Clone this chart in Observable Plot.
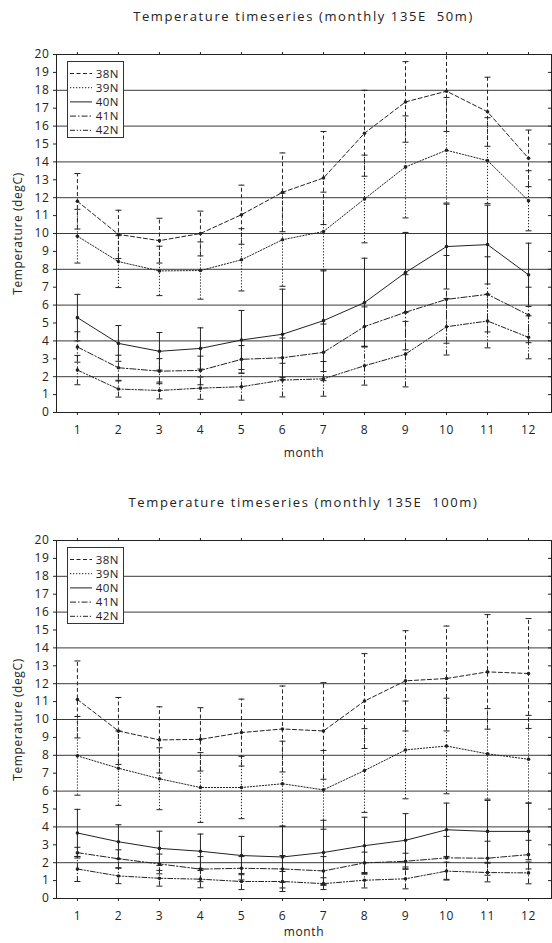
<!DOCTYPE html>
<html><head><meta charset="utf-8">
<script src="https://cdn.jsdelivr.net/npm/d3@7"></script>
<script src="https://cdn.jsdelivr.net/npm/@observablehq/plot@0.6"></script>
<style>
body{margin:0;background:#fff;font-family:"Open Sans",sans-serif;color:#222}
.block{position:relative;width:552px;height:486px;overflow:visible}
.title{position:absolute;left:56px;width:495px;top:8px;line-height:16px;text-align:center;font-size:13px;letter-spacing:1.6px;white-space:pre;color:#222}
.plotwrap{position:absolute;left:0;top:34px}
.legend{position:absolute;left:67px;top:61px}
</style></head><body>
<div id="root"></div>
<script>
const months = [1,2,3,4,5,6,7,8,9,10,11,12];
const seriesNames = ["38N","39N","40N","41N","42N"];
const yTicks = [0,1,2,3,4,5,6,7,8,9,10,11,12,13,14,15,16,17,18,19,20];
const gridLines = [2,4,6,8,10,12,14,16,18];

// 135E 50m : monthly means and standard deviations
const mean50_38N = [11.8, 9.95, 9.6, 10.0, 11.05, 12.3, 13.1, 15.6, 17.35, 17.95, 16.8, 14.2];
const sd50_38N   = [1.55, 1.35, 1.25, 1.25, 1.65, 2.2, 2.6, 2.4, 2.25, 2.25, 1.93, 1.58];
const mean50_39N = [9.85, 8.43, 7.91, 7.93, 8.53, 9.65, 10.11, 11.93, 13.72, 14.65, 14.07, 11.83];
const sd50_39N   = [1.5, 1.45, 1.38, 1.6, 1.74, 2.6, 2.2, 2.45, 2.85, 2.95, 2.4, 1.68];
const mean50_40N = [5.3, 3.86, 3.42, 3.58, 4.05, 4.37, 5.13, 6.14, 7.82, 9.27, 9.38, 7.69];
const sd50_40N   = [1.3, 1.0, 1.05, 1.15, 1.65, 2.52, 2.84, 2.48, 2.24, 2.37, 2.2, 1.77];
const mean50_41N = [3.66, 2.5, 2.31, 2.35, 2.97, 3.06, 3.36, 4.8, 5.6, 6.32, 6.6, 5.45];
const sd50_41N   = [0.85, 0.7, 0.7, 0.8, 0.77, 1.1, 1.58, 1.1, 2.1, 2.45, 2.1, 1.55];
const mean50_42N = [2.37, 1.31, 1.23, 1.36, 1.44, 1.81, 1.88, 2.61, 3.26, 4.79, 5.11, 4.2];
const sd50_42N   = [0.82, 0.45, 0.47, 0.62, 0.75, 0.94, 0.97, 1.08, 1.83, 1.58, 1.5, 1.2];

// 135E 100m
const mean100_38N = [11.12, 9.36, 8.86, 8.89, 9.27, 9.47, 9.36, 11.03, 12.16, 12.29, 12.66, 12.57];
const sd100_38N   = [2.15, 1.87, 1.85, 1.77, 1.87, 2.4, 2.7, 2.65, 2.8, 2.93, 3.2, 3.07];
const mean100_39N = [7.97, 7.28, 6.69, 6.2, 6.2, 6.41, 6.07, 7.15, 8.3, 8.52, 8.08, 7.78];
const sd100_39N   = [2.2, 2.08, 1.73, 1.95, 1.74, 2.38, 2.2, 2.34, 2.73, 2.67, 2.53, 2.45];
const mean100_40N = [3.66, 3.17, 2.8, 2.64, 2.4, 2.32, 2.57, 2.95, 3.25, 3.84, 3.75, 3.75];
const sd100_40N   = [1.32, 0.95, 0.96, 0.96, 1.07, 1.73, 1.8, 1.59, 1.49, 1.49, 1.73, 1.58];
const mean100_41N = [2.56, 2.22, 1.93, 1.64, 1.69, 1.65, 1.54, 1.99, 2.08, 2.27, 2.25, 2.45];
const sd100_41N   = [0.3, 0.5, 0.55, 0.7, 0.65, 0.75, 0.8, 0.6, 0.45, 1.2, 0.95, 0.8];
const mean100_42N = [1.65, 1.26, 1.13, 1.08, 0.95, 0.95, 0.83, 1.02, 1.1, 1.53, 1.45, 1.43];
const sd100_42N   = [0.7, 0.43, 0.44, 0.48, 0.45, 0.56, 0.33, 0.43, 0.56, 0.5, 0.52, 0.61];

const dashes = {"38N":"4,2.5","39N":"1.3,1.7","40N":null,"41N":"6,2,1.5,2","42N":"5,1.8,1.3,1.8,1.3,1.8"};
const ink = "#222";

const capSymbol = {draw(ctx, size){ const r = Math.sqrt(size / Math.PI); ctx.moveTo(-r,0); ctx.lineTo(r,0); }};

function rows(meansArr, sdsArr){
  return seriesNames.map((s,i)=>months.map((m,j)=>({series:s, month:m, mean:meansArr[i][j], lo:meansArr[i][j]-sdsArr[i][j], hi:meansArr[i][j]+sdsArr[i][j]})));
}

function makeChart(title, meansArr, sdsArr, monthLabelOffset){
  const W = 552, mL = 56, mR = 1, mT = 20, mB = 60, innerH = 358;
  const data = rows(meansArr, sdsArr);
  const marks = [Plot.ruleY(gridLines, {stroke:"#3a3a3a", strokeWidth:1})];
  data.forEach(d => {
    const s = d[0].series, dash = dashes[s];
    const caps = d.flatMap(r => [{month:r.month, v:r.lo},{month:r.month, v:r.hi}]);
    marks.push(Plot.ruleX(d, {x:"month", y1:"lo", y2:"hi", stroke:ink, strokeWidth:1, strokeDasharray:dash, clip:true}));
    marks.push(Plot.dot(caps, {x:"month", y:"v", symbol:capSymbol, r:3, stroke:ink, strokeWidth:1, clip:true}));
    marks.push(Plot.line(d, {x:"month", y:"mean", stroke:ink, strokeWidth:1, strokeDasharray:dash}));
    marks.push(Plot.dot(d, {x:"month", y:"mean", r:1.8, fill:ink, stroke:null}));
  });
  marks.push(
    Plot.axisY({ticks:yTicks, tickSize:3, tickPadding:4, label:"Temperature (degC)", labelAnchor:"center", labelArrow:"none", labelOffset:43, fontSize:12}),
    Plot.tickY(yTicks, {y:d=>d, insetLeft:(W-mL-mR)-3, stroke:ink}),
    Plot.axisX({ticks:months, tickSize:3, tickPadding:10, label:"month", labelAnchor:"center", labelArrow:"none", labelOffset:monthLabelOffset, fontSize:12}),
    Plot.axisX({anchor:"top", ticks:months, tickSize:3, tickFormat:()=>"", label:null}),
    Plot.frame({stroke:ink, strokeWidth:1})
  );
  const svg = Plot.plot({
    width:W, height:mT+innerH+mB,
    marginTop:mT, marginBottom:mB, marginLeft:mL, marginRight:mR,
    style:{fontFamily:'"Open Sans", sans-serif', fontSize:"11px", letterSpacing:"0.6px", color:ink, background:"white", overflow:"visible"},
    x:{domain:[0.49,12.56]},
    y:{domain:[0,20]},
    marks
  });
  const block = document.createElement("div");
  block.className = "block";
  const t = document.createElement("div");
  t.className = "title"; t.textContent = title;
  const wrap = document.createElement("div");
  wrap.className = "plotwrap"; wrap.appendChild(svg);
  block.appendChild(wrap);
  block.appendChild(t);
  // legend
  const lg = d3.create("svg").attr("width",57).attr("height",77).attr("class","legend")
    .style("font-family",'"Open Sans", sans-serif').style("font-size","11.5px").style("letter-spacing","0.5px");
  lg.append("rect").attr("x",0.5).attr("y",0.5).attr("width",56).attr("height",76).attr("fill","white").attr("stroke","#333");
  seriesNames.forEach((s,i)=>{
    const yy = 12.5 + i*14.2;
    lg.append("line").attr("x1",3).attr("x2",25).attr("y1",yy).attr("y2",yy).attr("stroke",ink).attr("stroke-dasharray",dashes[s]);
    lg.append("text").attr("x",52).attr("y",yy).attr("dy","0.35em").attr("text-anchor","end").attr("fill",ink).text(s);
  });
  block.appendChild(lg.node());
  return block;
}

const root = document.getElementById("root");
root.appendChild(makeChart("Temperature timeseries (monthly 135E  50m)",
  [mean50_38N, mean50_39N, mean50_40N, mean50_41N, mean50_42N],
  [sd50_38N, sd50_39N, sd50_40N, sd50_41N, sd50_42N], 44));
root.appendChild(makeChart("Temperature timeseries (monthly 135E  100m)",
  [mean100_38N, mean100_39N, mean100_40N, mean100_41N, mean100_42N],
  [sd100_38N, sd100_39N, sd100_40N, sd100_41N, sd100_42N], 37));
</script>
</body></html>
